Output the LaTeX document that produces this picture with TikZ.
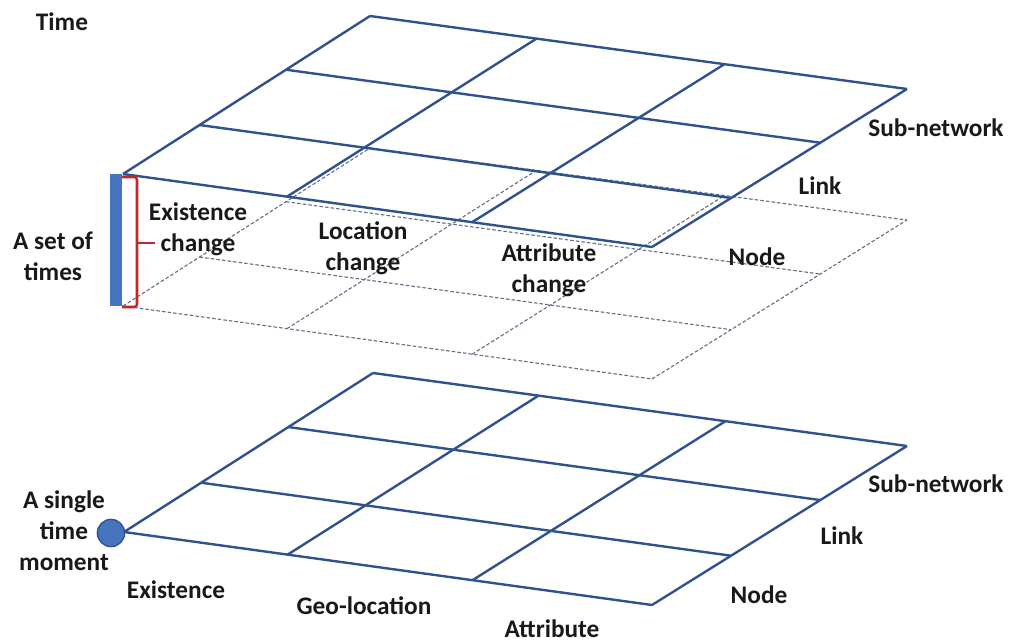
\documentclass[tikz,border=0pt]{standalone}
\usepackage{fontspec}
\setmainfont{Carlito}
\usetikzlibrary{calc}

\definecolor{gridblue}{RGB}{47,82,143}
\definecolor{hiddengray}{RGB}{100,110,132}
\definecolor{barblue}{RGB}{70,116,190}
\definecolor{bracered}{RGB}{190,40,45}

\tikzset{
  gridline/.style={gridblue, line width=1.7pt},
  hiddenline/.style={hiddengray, line width=0.8pt, dash pattern=on 2.5pt off 1.5pt},
  lbl/.style={font=\bfseries\fontsize{18}{22}\selectfont, align=center, text=black!90},
}

% one layer: a 3x3 grid between four corners
\newcommand{\layergrid}[2]{%
  \foreach \f in {0,0.31,0.66,1} {
    \draw[#2] ($(#1-00)!\f!(#1-01)$) -- ($(#1-10)!\f!(#1-11)$);
    \draw[#2] ($(#1-00)!\f!(#1-10)$) -- ($(#1-01)!\f!(#1-11)$);
  }}

\begin{document}
\begin{tikzpicture}[x=0.025cm, y=-0.025cm]
\useasboundingbox (0,0) rectangle (1009,644);

%corners of the upper block (top face)
\coordinate (top-00) at (123,174);
\coordinate (top-10) at (652,247);
\coordinate (top-01) at (370,16);
\coordinate (top-11) at (907,89);
%corners of the upper block (hidden face)
\coordinate (low-00) at (123,306);
\coordinate (low-10) at (652,379);
\coordinate (low-01) at (370,148);
\coordinate (low-11) at (907,220);
%corners of the single moment plane
\coordinate (one-00) at (124,532);
\coordinate (one-10) at (652,605);
\coordinate (one-01) at (373,373);
\coordinate (one-11) at (907,446);

%hidden face first, then the top face over it
\layergrid{low}{hiddenline}
\layergrid{top}{gridline}

%set of times: bar and bracket
\fill[barblue] (110,174) rectangle (122,306);
\draw[bracered, line width=1.8pt, rounded corners=2pt] (122,177) -- (137,177) -- (137,307) -- (122,307);
\draw[bracered, line width=1.8pt] (137,243) -- (155,243);

%single moment plane
\layergrid{one}{gridline}
\node[circle, fill=barblue, draw=gridblue, line width=1pt, minimum size=0.68cm, inner sep=0pt] (moment) at (111,533) {};

%labels of the upper block
\node[lbl] (timelbl) at (62,22) {Time};
\node[lbl] (setlbl) at (53,256) {A set of\\times};
\node[lbl] (existchg) at (198,229) {Existence\\change};
\node[lbl] (locchg) at (363,248) {Location\\change};
\node[lbl] (attrchg) at (549,270) {Attribute\\change};
\node[lbl] (topnode) at (757,257) {Node};
\node[lbl] (toplink) at (820,186) {Link};
\node[lbl] (topsub) at (936,128) {Sub-network};

%labels of the single moment plane
\node[lbl] (singlelbl) at (64,531) {A single\\time\\moment};
\node[lbl] (existlbl) at (176,590) {Existence};
\node[lbl] (geolbl) at (364,606) {Geo-location};
\node[lbl] (attrlbl) at (552,629) {Attribute};
\node[lbl] (onenode) at (759,595) {Node};
\node[lbl] (onelink) at (842,536) {Link};
\node[lbl] (onesub) at (936,484) {Sub-network};

\end{tikzpicture}
\end{document}
